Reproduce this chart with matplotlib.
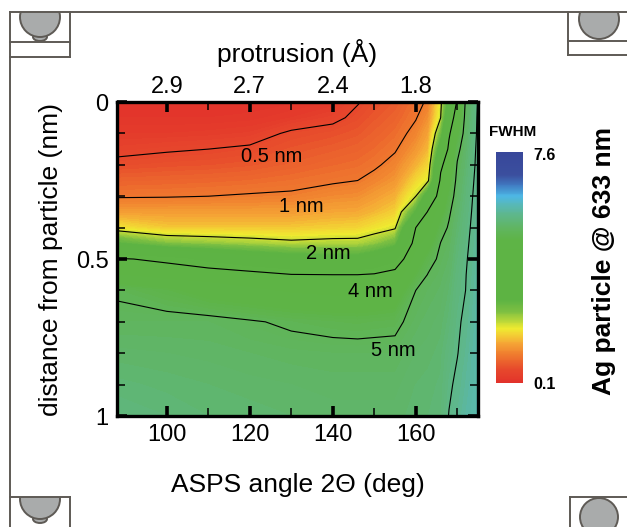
import numpy as np
import matplotlib
matplotlib.use("Agg")
import matplotlib.pyplot as plt
from matplotlib.colors import LinearSegmentedColormap, Normalize
from matplotlib.cm import ScalarMappable
from matplotlib.patches import Circle, Ellipse, Rectangle

plt.rcParams['font.family'] = ['Liberation Sans', 'DejaVu Sans']

# ASPS angle (deg) columns and distance from particle (nm) rows
angles = [88, 100, 110, 120, 130, 140, 146, 150, 155, 160, 163, 166, 168, 170, 172, 175]
dist = [0, 0.05, 0.1, 0.15, 0.2, 0.25, 0.3, 0.35, 0.4, 0.45, 0.5, 0.55, 0.6, 0.7, 0.8, 0.9, 1.0]

# FWHM (nm), one row per angle, values along dist
fwhm = [
    [0.15, 0.2, 0.3, 0.42, 0.58, 0.78, 0.97, 1.3, 1.8, 2.8, 4.05, 4.45, 4.95, 5.1, 5.22, 5.32, 5.4],
    [0.15, 0.2, 0.3, 0.47, 0.62, 0.8, 0.98, 1.3, 1.6, 2.4, 3.9, 4.3, 4.8, 5.1, 5.2, 5.28, 5.35],
    [0.15, 0.2, 0.32, 0.5, 0.64, 0.82, 1.0, 1.3, 1.6, 2.3, 3.6, 4.3, 4.6, 5.1, 5.18, 5.25, 5.3],
    [0.15, 0.22, 0.36, 0.55, 0.68, 0.85, 1.03, 1.3, 1.6, 2.2, 3.3, 4.2, 4.5, 5.03, 5.15, 5.22, 5.28],
    [0.18, 0.3, 0.55, 0.66, 0.76, 0.9, 1.05, 1.3, 1.6, 2.1, 3.1, 4.02, 4.4, 4.95, 5.12, 5.2, 5.25],
    [0.25, 0.42, 0.62, 0.73, 0.84, 0.96, 1.15, 1.38, 1.65, 2.15, 3.0, 4.0, 4.35, 4.9, 5.1, 5.18, 5.22],
    [0.48, 0.58, 0.68, 0.78, 0.88, 1.0, 1.18, 1.4, 1.68, 2.15, 3.0, 4.0, 4.35, 4.88, 5.1, 5.18, 5.22],
    [0.6, 0.68, 0.76, 0.85, 0.95, 1.1, 1.3, 1.5, 1.8, 2.3, 3.2, 4.05, 4.4, 4.9, 5.1, 5.18, 5.22],
    [0.7, 0.78, 0.87, 0.97, 1.1, 1.25, 1.45, 1.65, 1.95, 2.6, 3.6, 4.2, 4.5, 4.92, 5.1, 5.18, 5.22],
    [0.9, 0.98, 1.1, 1.25, 1.45, 1.7, 2.0, 2.8, 4.0, 4.3, 4.55, 4.75, 5.0, 5.12, 5.2, 5.25, 5.28],
    [1.05, 1.2, 1.35, 1.5, 1.7, 1.95, 3.2, 4.1, 4.3, 4.6, 4.85, 5.02, 5.1, 5.18, 5.22, 5.28, 5.3],
    [1.9, 2.0, 2.5, 3.1, 3.85, 4.15, 4.4, 4.6, 4.85, 5.01, 5.08, 5.12, 5.16, 5.22, 5.28, 5.31, 5.34],
    [3.0, 3.5, 3.9, 4.15, 4.4, 4.6, 4.8, 4.95, 5.04, 5.1, 5.15, 5.2, 5.25, 5.32, 5.4, 5.46, 5.51],
    [4.1, 4.4, 4.65, 4.9, 5.03, 5.1, 5.15, 5.2, 5.25, 5.3, 5.34, 5.38, 5.41, 5.46, 5.49, 5.55, 5.6],
    [5.05, 5.1, 5.15, 5.2, 5.25, 5.3, 5.34, 5.38, 5.41, 5.44, 5.47, 5.49, 5.5, 5.55, 5.6, 5.65, 5.7],
    [5.52, 5.54, 5.55, 5.57, 5.58, 5.6, 5.62, 5.63, 5.65, 5.67, 5.68, 5.7, 5.72, 5.75, 5.78, 5.8, 5.82],
]

line_levels = [0.5, 1, 2, 4, 5, 5.5]
line_labels = ["0.5 nm", "1 nm", "2 nm", "4 nm", "5 nm"]
label_pos = [(125.2, 0.174), (132.5, 0.333), (139, 0.482), (149, 0.604), (154.6, 0.79)]

bottom_ticks = [100, 120, 140, 160]
top_labels = ["2.9", "2.7", "2.4", "1.8"]
vmin, vmax = 0.1, 7.6

cmap = LinearSegmentedColormap.from_list("fwhm", [
    (0.0, "#e2322b"), (0.06, "#e74a2c"), (0.12, "#ef7a2e"), (0.17, "#f5a535"),
    (0.21, "#f3d334"), (0.235, "#eeea30"), (0.27, "#b6d63a"), (0.31, "#7cbf42"),
    (0.36, "#5db343"), (0.62, "#5eb446"), (0.67, "#60b560"), (0.73, "#5eb78c"),
    (0.78, "#56b8c0"), (0.81, "#4db7e5"), (0.86, "#4078c0"), (0.9, "#3b4f9e"),
    (1.0, "#38479a")])

fig = plt.figure(figsize=(6.27, 5.27), dpi=100)
ax = fig.add_axes([0.1866, 0.2106, 0.5758, 0.5958])
ax.set_axisbelow(False)

X, Y = np.meshgrid(angles, dist)
Z = np.array(fwhm).T
ax.contourf(X, Y, Z, levels=np.linspace(vmin, vmax, 151), cmap=cmap,
            vmin=vmin, vmax=vmax, zorder=0.5)
ax.contour(X, Y, Z, levels=line_levels, colors="black", linewidths=0.8, zorder=1)
for txt, (xx, yy) in zip(line_labels, label_pos):
    ax.text(xx, yy, txt, fontsize=14.5, ha="center", va="center")

ax.set_xlim(88, 175)
ax.set_ylim(1, 0)
ax.set_xticks(bottom_ticks)
ax.set_xticks([110, 130, 150, 170], minor=True)
ax.set_yticks([0, 0.5, 1])
ax.set_yticklabels(["0", "0.5", "1"])
ax.set_yticks([0.1, 0.2, 0.3, 0.4, 0.6, 0.7, 0.8, 0.9], minor=True)
ax.tick_params(which="major", direction="in", length=7, width=2.6, labelsize=17,
               top=True, right=True, pad=6, color="black")
ax.tick_params(which="minor", direction="in", length=6, width=1.1,
               top=True, right=True, color="black")
for s in ax.spines.values():
    s.set_linewidth(2.4)
    s.set_zorder(3)
ax.set_xlabel("ASPS angle 2\u0398 (deg)", fontsize=19, labelpad=19)
ax.set_ylabel("distance from particle (nm)", fontsize=19, labelpad=9)

top = ax.secondary_xaxis("top")
top.set_xticks(bottom_ticks, top_labels)
top.tick_params(direction="in", length=0, labelsize=17, pad=3)
top.set_xlabel("protrusion (\u00c5)", fontsize=19, labelpad=10)

cax = fig.add_axes([0.791, 0.2732, 0.043, 0.4383])
cb = fig.colorbar(ScalarMappable(norm=Normalize(vmin, vmax), cmap=cmap), cax=cax)
cb.set_ticks([])
cb.outline.set_visible(False)
fig.text(0.817, 0.749, "FWHM", fontsize=11, fontweight="bold", ha="center", va="center")
fig.text(0.85, 0.705, "7.6", fontsize=11.5, fontweight="bold", ha="left", va="center")
fig.text(0.85, 0.27, "0.1", fontsize=11.5, fontweight="bold", ha="left", va="center")
fig.text(0.964, 0.505, "Ag particle @ 633 nm", fontsize=19, fontweight="bold",
         rotation=90, ha="center", va="center")

# page decorations (pixel coordinates)
deco = fig.add_axes([0, 0, 1, 1], zorder=-1)
deco.set_xlim(0, 627)
deco.set_ylim(527, 0)
deco.axis("off")
lc = "#5e5a55"
deco.plot([9.5, 627], [12, 12], color=lc, lw=1.4)
deco.plot([9.5, 9.5], [12, 527], color=lc, lw=1.4)
# top-left
deco.plot([70, 70], [12, 57], color=lc, lw=1.4)
deco.plot([9.5, 70], [42, 42], color=lc, lw=1.4)
deco.plot([9.5, 70], [57, 57], color=lc, lw=1.4)
clip_tl = Rectangle((9.5, 12), 61, 30, transform=deco.transData)
for p in [Ellipse((40, 37), 14, 8), Circle((40, 17), 20)]:
    p.set(facecolor="#a9abab", edgecolor=lc, lw=1.4)
    deco.add_patch(p)
    p.set_clip_path(clip_tl)
# top-right
deco.plot([568, 568], [12, 55], color=lc, lw=1.4)
deco.plot([568, 627], [41, 41], color=lc, lw=1.4)
deco.plot([568, 627], [55, 55], color=lc, lw=1.4)
c = Circle((599, 19), 20, facecolor="#a9abab", edgecolor=lc, lw=1.4)
deco.add_patch(c)
c.set_clip_path(Rectangle((568, 12), 59, 29, transform=deco.transData))
# bottom-left
deco.plot([70, 70], [497, 527], color=lc, lw=1.4)
deco.plot([9.5, 70], [497, 497], color=lc, lw=1.4)
clip_bl = Rectangle((9.5, 497), 61, 30, transform=deco.transData)
for p in [Ellipse((40, 519), 14, 8), Circle((40, 499), 20)]:
    p.set(facecolor="#a9abab", edgecolor=lc, lw=1.4)
    deco.add_patch(p)
    p.set_clip_path(clip_bl)
# bottom-right
deco.plot([570, 570], [497, 527], color=lc, lw=1.4)
deco.plot([570, 627], [497, 497], color=lc, lw=1.4)
c = Circle((599, 517), 19, facecolor="#a9abab", edgecolor=lc, lw=1.4)
deco.add_patch(c)
c.set_clip_path(Rectangle((570, 497), 57, 30, transform=deco.transData))

fig.savefig("out.png", dpi=100)
